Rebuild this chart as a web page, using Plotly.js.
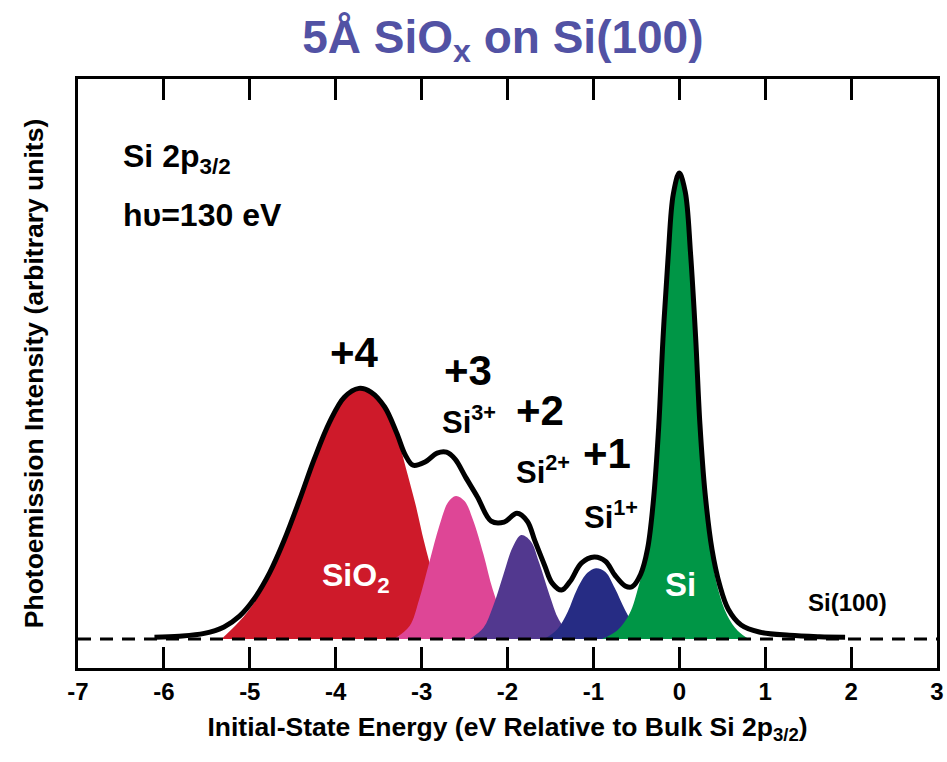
<!DOCTYPE html>
<html>
<head>
<meta charset="utf-8">
<script src="https://cdn.plot.ly/plotly-3.0.1.min.js"></script>
<style>html,body{margin:0;padding:0;background:#fff;}#chart{width:947px;height:762px;}</style>
</head>
<body>
<div id="chart"></div>
<script>
// Energy (eV relative to bulk Si 2p3/2) and intensity (arb. units, Si peak = 100)
const envelopeX = [-6.11,-5.82,-5.53,-5.30,-5.12,-4.95,-4.77,-4.60,-4.42,-4.25,-4.07,-3.90,-3.73,-3.59,-3.43,-3.29,-3.19,-3.10,-2.96,-2.82,-2.71,-2.61,-2.49,-2.35,-2.19,-2.04,-1.89,-1.77,-1.68,-1.57,-1.48,-1.37,-1.27,-1.14,-0.99,-0.86,-0.75,-0.63,-0.55,-0.45,-0.37,-0.30,-0.24,-0.19,-0.13,-0.07,0.00,0.07,0.13,0.19,0.24,0.30,0.38,0.47,0.57,0.72,0.93,1.28,1.63,1.93];
const envelopeY = [0.4,0.6,1.2,2.6,4.9,8.6,14.2,21.2,29.9,38.6,46.6,51.9,53.8,53.0,49.8,44.2,39.5,37.3,38.0,39.9,40.1,38.6,34.8,30.5,25.3,25.1,27.0,25.3,21.0,15.9,12.0,10.5,12.4,16.3,17.6,16.7,13.7,11.4,11.2,13.9,19.3,30.0,45.5,64.4,82.0,95.5,100,95.9,83.0,64.8,46.1,31.3,19.3,11.6,6.4,3.0,1.5,0.8,0.5,0.4];

const si4X = [-5.33,-5.12,-4.95,-4.77,-4.60,-4.42,-4.25,-4.07,-3.90,-3.73,-3.56,-3.41,-3.28,-3.18,-3.07,-2.97,-2.86,-2.75,-2.62,-2.44,-2.27];
const si4Y = [0,3.8,7.8,13.6,20.7,29.5,38.3,46.3,51.6,53.6,52.6,48.7,43.1,36.5,28.8,20.8,13.3,7.3,3.0,0.6,0];

const si3X = [-3.32,-3.14,-3.03,-2.91,-2.79,-2.69,-2.60,-2.50,-2.40,-2.28,-2.17,-2.05,-1.91,-1.75];
const si3Y = [0,2.8,8.4,16.5,24.5,29.4,30.7,29.6,25.5,18.2,10.5,4.7,1.3,0];

const si2X = [-2.44,-2.28,-2.17,-2.05,-1.94,-1.84,-1.73,-1.63,-1.51,-1.40,-1.26,-1.07];
const si2Y = [0,2.4,6.9,13.7,19.7,22.3,21.0,16.3,9.4,4.1,1.1,0];

const si1X = [-1.57,-1.42,-1.30,-1.19,-1.07,-0.97,-0.86,-0.75,-0.63,-0.51,-0.37,-0.26];
const si1Y = [0,2.1,5.8,10.7,14.2,15.2,14.4,10.9,6.2,2.6,0.4,0];

const si0X = [-0.90,-0.72,-0.58,-0.47,-0.37,-0.29,-0.23,-0.17,-0.12,-0.06,0,0.06,0.12,0.17,0.23,0.29,0.37,0.45,0.56,0.68,0.81];
const si0Y = [0,1.9,5.4,11.6,19.0,31.0,46.0,64.5,82.0,95.5,99.6,96.0,83.5,65.5,47.5,32.5,18.8,10.8,5.0,1.8,0];

const baselineX = [-7, 3];
const baselineY = [0, 0];

const xTickVals = [-7,-6,-5,-4,-3,-2,-1,0,1,2,3];
const xTickText = ['-7','-6','-5','-4','-3','-2','-1','0','1','2','3'];

const componentNames = ['Si⁴⁺ (SiO₂)','Si³⁺','Si²⁺','Si¹⁺','Si (bulk)'];
const componentColors = ['#CE1A2A','#DE4696','#52388F','#262C84','#009646'];

const FONT = 'Liberation Sans, Arial, Helvetica, sans-serif';

const comps = [[si4X,si4Y],[si3X,si3Y],[si2X,si2Y],[si1X,si1Y],[si0X,si0Y]];
const traces = comps.map((c,i)=>({
  x: c[0], y: c[1], type:'scatter', mode:'lines', name: componentNames[i],
  line:{shape:'spline', smoothing:1, width:0, color: componentColors[i]},
  fill:'tozeroy', fillcolor: componentColors[i], hoverinfo:'x+y+name'
}));
traces.push({x: baselineX, y: baselineY, type:'scatter', mode:'lines', name:'baseline',
  line:{color:'#000', width:3, dash:'13px,9px'}, hoverinfo:'skip'});
traces.push({x: envelopeX, y: envelopeY, type:'scatter', mode:'lines', name:'Si 2p3/2 spectrum',
  line:{shape:'spline', smoothing:1, color:'#000', width:5}});

function ann(text, x, y, size, opts){
  return Object.assign({text:text, x:x, y:y, xref:'x', yref:'y', showarrow:false,
    font:{family:FONT, size:size, color:'#000', weight:700}}, opts||{});
}
const annotations = [
  ann('Si 2p<sub>3/2</sub>', -6.50, 103.2, 32, {xanchor:'left', yanchor:'middle'}),
  ann('hυ=130 eV', -6.50, 91.0, 32, {xanchor:'left', yanchor:'middle'}),
  ann('+4', -3.78, 61.6, 42),
  ann('+3', -2.46, 57.7, 42),
  ann('Si<sup>3+</sup>', -2.79, 47.0, 31, {xanchor:'left', yanchor:'middle'}),
  ann('+2', -1.62, 49.1, 42),
  ann('Si<sup>2+</sup>', -1.92, 36.3, 31, {xanchor:'left', yanchor:'middle'}),
  ann('+1', -0.84, 39.9, 42),
  ann('Si<sup>1+</sup>', -1.13, 26.6, 31, {xanchor:'left', yanchor:'middle'}),
  ann('SiO<sub>2</sub>', -3.76, 13.1, 32, {font:{family:FONT, size:32, color:'#fff', weight:700}}),
  ann('Si', 0.01, 11.6, 33, {font:{family:FONT, size:33, color:'#fff', weight:700}}),
  ann('Si(100)', 1.96, 7.9, 24, {font:{family:FONT, size:24, color:'#000', weight:700}})
];

const layout = {
  width:947, height:762,
  margin:{l:78, r:10, t:79, b:94},
  paper_bgcolor:'#fff', plot_bgcolor:'#fff',
  showlegend:false,
  title:{text:'5Å SiO<sub>x</sub> on Si(100)', font:{family:FONT, size:46, color:'#5252A4', weight:700},
    x:0.531, xanchor:'center', y:0.952, yanchor:'middle', yref:'container'},
  xaxis:{range:[-7,3], tickvals:xTickVals, ticktext:xTickText, ticks:'inside', ticklen:21, tickwidth:3,
    tickcolor:'#000', showline:true, linewidth:3, linecolor:'#000', mirror:'ticks', showgrid:false, zeroline:false,
    tickfont:{family:FONT, size:24, color:'#000', weight:700},
    title:{text:'Initial-State Energy (eV Relative to Bulk Si 2p<sub>3/2</sub>)', font:{family:FONT, size:26.5, color:'#000', weight:700}, standoff:14}},
  yaxis:{range:[-6.22,120.2], showticklabels:false, ticks:'', showline:true, linewidth:3, linecolor:'#000', mirror:true,
    showgrid:false, zeroline:false,
    title:{text:'Photoemission Intensity (arbitrary units)', font:{family:FONT, size:26.5, color:'#000', weight:700}, standoff:24}},
  annotations: annotations
};
Plotly.newPlot('chart', traces, layout, {displayModeBar:false});
</script>
</body>
</html>
